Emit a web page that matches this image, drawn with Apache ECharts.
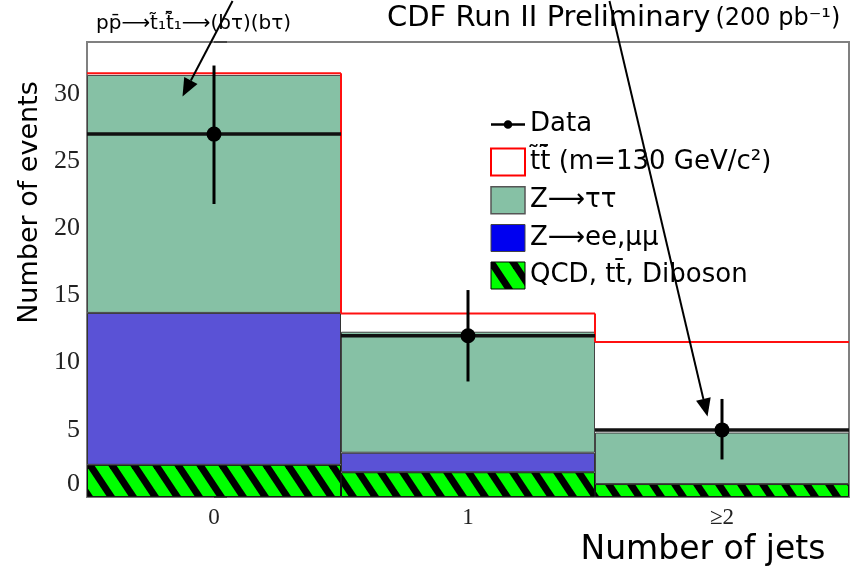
<!DOCTYPE html>
<html><head><meta charset="utf-8">
<script src="https://cdn.jsdelivr.net/npm/echarts@6/dist/echarts.min.js"></script>
<style>html,body{margin:0;padding:0;background:#fff}#c{width:854px;height:572px}</style>
</head><body><div id="c"></div>
<script>
// ---- data ----
const categories = ['0', '1', '\u22652'];
const qcd  = [2.4, 1.85, 0.97];   // QCD, tt, Diboson
const zee  = [11.3, 1.45, 0];     // Z -> ee, mumu
const ztt  = [17.7, 9.0, 3.83];   // Z -> tautau
const stop = [0.12, 1.35, 6.73];  // stop signal stacked on top
const data = [27, 12, 5];
const dataLow  = [21.8, 8.6, 2.8];
const dataHigh = [32.1, 15.4, 7.3];
const yTicks = [0, 5, 10, 15, 20, 25, 30];
// annotation arrows, in (bin position, events) coordinates
const arrowFrom = [[0.073, 36.9], [1.557, 36.9]];
const arrowTo   = [[-0.124, 29.8], [1.943, 6.0]];

const total = categories.map((c, i) => qcd[i] + zee[i] + ztt[i] + stop[i]);

const SIG = 't\u0303t\u0303\u0304 (m=130 GeV/c\u00b2)';
const ZTT = 'Z\u27f6\u03c4\u03c4';
const ZEE = 'Z\u27f6ee,\u03bc\u03bc';
const QCD = 'QCD, tt\u0304, Diboson';
const SANS = 'DejaVu Sans';
const SERIF = 'Liberation Serif';

function hatch() {
  const c = document.createElement('canvas');
  c.width = 22; c.height = 33;
  const g = c.getContext('2d');
  g.fillStyle = '#00ff00'; g.fillRect(0, 0, 22, 33);
  g.strokeStyle = '#000'; g.lineWidth = 7;
  for (const x0 of [-44, -22, 0, 22, 44]) {
    g.beginPath(); g.moveTo(x0 - 22, -33); g.lineTo(x0 + 44, 66); g.stroke();
  }
  return c;
}
const hatchFill = { image: hatch(), repeat: 'repeat' };

const chart = echarts.init(document.getElementById('c'), null, { renderer: 'canvas' });

const option = {
  backgroundColor: '#fff',
  animation: false,
  title: [
    { text: '{a|CDF Run II Preliminary} {b|(200 pb\u207b\u00b9)}', left: 387, top: 4, padding: 0,
      textStyle: { fontWeight: 'normal',
                   rich: { a: { fontSize: 29, fontFamily: SANS, color: '#000', fontWeight: 'normal' },
                           b: { fontSize: 24, fontFamily: SANS, color: '#000', fontWeight: 'normal' } } } },
    { text: 'pp\u0304\u27f6t\u0303\u2081t\u0303\u0304\u2081\u27f6(b\u03c4)(b\u03c4)', left: 96, top: 14, padding: 0,
      textStyle: { fontSize: 20, fontWeight: 'normal', fontFamily: SANS, color: '#000' } }
  ],
  grid: { left: 87, right: 5, top: 42, bottom: 74, show: true, borderColor: '#808080', borderWidth: 2,
          backgroundColor: 'transparent' },
  legend: {
    orient: 'vertical', left: 490, top: 111, padding: 0, itemWidth: 34, itemHeight: 27, itemGap: 9.5,
    textStyle: { fontFamily: SANS, fontSize: 26, color: '#000', lineHeight: 27 },
    selectedMode: false,
    data: [
      { name: 'Data', icon: 'path://M0 12h34v2.6H0z M17 9a4.3 4.3 0 1 1 0 8.6a4.3 4.3 0 1 1 0-8.6z',
        itemStyle: { color: '#000' } },
      { name: SIG, icon: 'rect', itemStyle: { color: '#fff', borderColor: '#ff0000', borderWidth: 2 } },
      { name: ZTT, icon: 'rect', itemStyle: { color: '#86c1a5', borderColor: '#555', borderWidth: 1.5 } },
      { name: ZEE, icon: 'rect', itemStyle: { color: '#0000f0', borderColor: '#444', borderWidth: 1 } },
      { name: QCD, icon: 'rect', itemStyle: { color: hatchFill, borderColor: '#000', borderWidth: 1 } }
    ]
  },
  xAxis: [
    { type: 'category', data: categories, boundaryGap: true,
      axisLine: { show: false }, axisTick: { show: false },
      axisLabel: { fontFamily: SERIF, fontSize: 23, color: '#222', margin: 9 },
      name: 'Number of jets', nameLocation: 'middle', nameGap: 32,
      nameTextStyle: { fontFamily: SANS, fontSize: 33, color: '#000', padding: [0, 0, 0, 470] } },
    { type: 'value', min: -0.5, max: 2.5, show: false }
  ],
  yAxis: {
    type: 'value', min: 0, max: 33.85, interval: 5,
    axisLine: { show: false }, splitLine: { show: false },
    axisTick: { show: true, inside: true, length: 13, lineStyle: { color: '#333', width: 1.5 } },
    axisLabel: { fontFamily: SERIF, fontSize: 26, color: '#222', margin: 7,
                 verticalAlignMinLabel: 'bottom',
                 formatter: v => (yTicks.indexOf(v) >= 0 ? String(v) : '') },
    name: 'Number of events', nameLocation: 'middle', nameGap: 42, nameRotate: 90,
    nameTextStyle: { fontFamily: SANS, fontSize: 27, color: '#000', padding: [0, 0, 0, 134] }
  },
  series: [
    { name: QCD, type: 'bar', stack: 'bg', data: qcd, barWidth: '100%', barCategoryGap: '0%',
      itemStyle: { color: hatchFill, borderColor: '#111', borderWidth: 1 }, z: 2 },
    { name: ZEE, type: 'bar', stack: 'bg', data: zee, barWidth: '100%',
      itemStyle: { color: '#5a52d6', borderColor: '#333', borderWidth: 1 }, z: 2 },
    { name: ZTT, type: 'bar', stack: 'bg', data: ztt, barWidth: '100%',
      itemStyle: { color: '#86c1a5', borderColor: '#444', borderWidth: 1 }, z: 2 },
    { name: SIG, type: 'custom', z: 4,
      data: categories.map((c, i) => [i, total[i], i > 0 ? total[i - 1] : total[i]]),
      encode: { x: 0, y: 1 },
      itemStyle: { color: '#fff', borderColor: '#ff0000', borderWidth: 2 },
      renderItem: function (params, api) {
        const i = api.value(0);
        const p = api.coord([i, api.value(1)]);
        const w = api.size([1, 0])[0];
        const st = { stroke: '#ff1010', lineWidth: 2 };
        const ch = [{ type: 'line', shape: { x1: p[0] - w / 2, y1: p[1], x2: p[0] + w / 2, y2: p[1] }, style: st }];
        if (i > 0) {
          const q = api.coord([i, api.value(2)]);
          ch.push({ type: 'line', shape: { x1: p[0] - w / 2, y1: q[1], x2: p[0] - w / 2, y2: p[1] }, style: st });
        }
        return { type: 'group', children: ch };
      } },
    { name: 'dataBars', type: 'custom', z: 5,
      data: categories.map((c, i) => [i, data[i], dataLow[i], dataHigh[i]]),
      encode: { x: 0, y: [1, 2, 3] },
      renderItem: function (params, api) {
        const i = api.value(0);
        const p = api.coord([i, api.value(1)]);
        const lo = api.coord([i, api.value(2)]);
        const hi = api.coord([i, api.value(3)]);
        const w = api.size([1, 0])[0];
        return { type: 'group', children: [
          { type: 'line', shape: { x1: p[0] - w / 2, y1: p[1], x2: p[0] + w / 2, y2: p[1] },
            style: { stroke: '#111', lineWidth: 3.5 } },
          { type: 'line', shape: { x1: p[0], y1: hi[1], x2: p[0], y2: lo[1] },
            style: { stroke: '#000', lineWidth: 3 } }
        ] };
      } },
    { name: 'Data', type: 'line', data: data, symbol: 'circle', symbolSize: 15, z: 6,
      lineStyle: { width: 0, opacity: 0 }, itemStyle: { color: '#000' } }
  ]
};
chart.setOption(option);

// annotation arrows placed through the chart's own coordinate conversion
const graphics = [];
arrowFrom.forEach((f, k) => {
  const p0 = chart.convertToPixel({ xAxisIndex: 1, yAxisIndex: 0 }, f);
  const p1 = chart.convertToPixel({ xAxisIndex: 1, yAxisIndex: 0 }, arrowTo[k]);
  const dx = p1[0] - p0[0], dy = p1[1] - p0[1];
  const L = Math.sqrt(dx * dx + dy * dy);
  const ux = dx / L, uy = dy / L, nx = -uy, ny = ux;
  const hl = 18, hw = 7.5;
  const bx = p1[0] - ux * hl, by = p1[1] - uy * hl;
  graphics.push({ type: 'line', z: 100, shape: { x1: p0[0], y1: p0[1], x2: bx, y2: by },
                  style: { stroke: '#000', lineWidth: 2 } });
  graphics.push({ type: 'polygon', z: 100,
                  shape: { points: [[p1[0], p1[1]], [bx + nx * hw, by + ny * hw], [bx - nx * hw, by - ny * hw]] },
                  style: { fill: '#000' } });
});
chart.setOption({ graphic: graphics });
</script>
</body></html>
